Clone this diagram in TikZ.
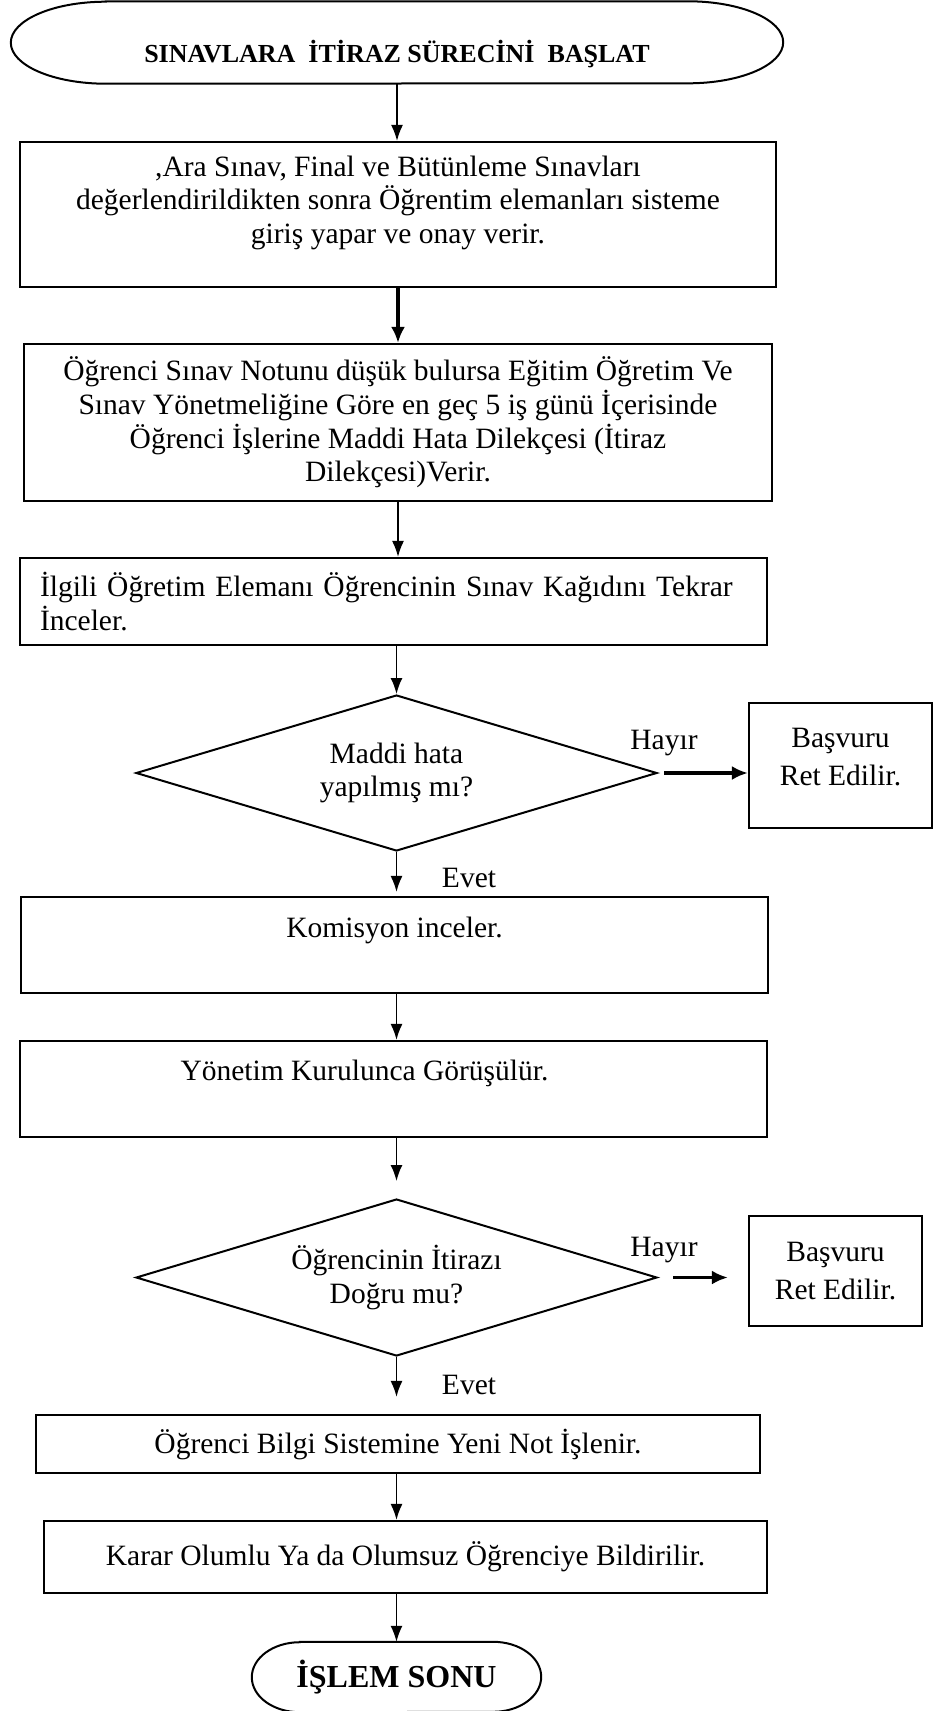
\documentclass[tikz,border=0pt]{standalone}
\usepackage{fontspec}
\setmainfont{Liberation Serif}
\usetikzlibrary{arrows.meta}
\usetikzlibrary{shapes.geometric}

\begin{document}
\begin{tikzpicture}[x=1pt, y=-1pt,
    every node/.style={font=\fontsize{29.5}{33.7}\selectfont, inner sep=0pt},
    stepbox/.style={draw, line width=2.2pt, rectangle},
    retbox/.style={stepbox, align=center, font=\fontsize{29.5}{38}\selectfont},
    decision/.style={draw, line width=2pt, diamond, aspect=3.34, align=center},
    terminal/.style={rectangle, font=\fontsize{26}{30}\selectfont\bfseries},
    conn/.style={-{Latex[length=16pt,width=12pt]}, line width=1.6pt},
    thickconn/.style={-{Latex[length=16pt,width=14pt]}, line width=3.2pt}]
    \useasboundingbox (0,0) rectangle (941,1711);
    \node[terminal, minimum width=772pt, minimum height=82pt, text height=46pt, text depth=7pt] (start) at (397,42.5) {SINAVLARA\ \ İTİRAZ SÜRECİNİ\ \ BAŞLAT};
    \draw[line width=2pt] ([xshift=95pt]start.north west) -- ([xshift=-95pt]start.north east) arc[start angle=90, end angle=-90, x radius=95pt, y radius=41pt] -- ([xshift=95pt]start.south west) arc[start angle=270, end angle=90, x radius=95pt, y radius=41pt] -- cycle;

    \node[stepbox, align=center, minimum width=756pt, minimum height=145pt] (b1) at (398,214.5) {,Ara Sınav, Final ve Bütünleme Sınavları\\değerlendirildikten sonra Öğrentim elemanları sisteme\\giriş yapar ve onay verir.\\[-4pt]\mbox{}};
    \node[stepbox, align=center, minimum width=748pt, minimum height=157pt] (b2) at (398,422.5) {Öğrenci Sınav Notunu düşük bulursa Eğitim Öğretim Ve\\Sınav Yönetmeliğine Göre en geç 5 iş günü İçerisinde\\Öğrenci İşlerine Maddi Hata Dilekçesi (İtiraz\\Dilekçesi)Verir.};
    \node[stepbox, align=left, text width=707pt, minimum width=747pt, minimum height=87pt] (b3) at (393.5,601.5) {İlgili Öğretim Elemanı Öğrencinin Sınav Kağıdını Tekrar\\İnceler.};
    \node[decision, minimum width=521pt, minimum height=156pt] (dm1) at (396.5,773) {Maddi hata\\yapılmış mı?};
    \node[retbox, minimum width=183pt, minimum height=125pt] (ret1) at (840.5,765.5) {Başvuru\\Ret Edilir.\\[-21pt]\mbox{}};
    \node (hayir1) at (664,743) {Hayır};
    \node (evet1) at (469,878) {Evet};
    \node[stepbox, minimum width=747pt, minimum height=96pt, text height=22pt, text depth=38pt] (b4) at (394.5,945) {Komisyon inceler.};
    \node[stepbox, minimum width=747pt, minimum height=96pt, text height=22pt, text depth=40pt] (b5) at (393.5,1089) {Yönetim Kurulunca Görüşülür.\hspace*{58pt}};
    \node[decision, minimum width=521pt, minimum height=157pt] (dm2) at (396.5,1277.5) {Öğrencinin İtirazı\\Doğru mu?};
    \node[retbox, minimum width=173pt, minimum height=110pt] (ret2) at (835.5,1271) {Başvuru\\Ret Edilir.};
    \node (hayir2) at (664,1250) {Hayır};
    \node (evet2) at (469,1385) {Evet};
    \node[stepbox, minimum width=724pt, minimum height=58pt] (b6) at (398,1444) {Öğrenci Bilgi Sistemine Yeni Not İşlenir.};
    \node[stepbox, minimum width=723pt, minimum height=72pt] (b7) at (405.5,1557) {Karar Olumlu Ya da Olumsuz Öğrenciye Bildirilir.};
    \node[terminal, font=\fontsize{32}{36}\selectfont\bfseries, minimum width=289pt, minimum height=70pt] (stop) at (396.5,1677) {İŞLEM SONU};
    \draw[line width=2pt] ([xshift=48pt]stop.north west) -- ([xshift=-48pt]stop.north east) arc[start angle=90, end angle=-90, x radius=48pt, y radius=35pt] -- ([xshift=48pt]stop.south west) arc[start angle=270, end angle=90, x radius=48pt, y radius=35pt] -- cycle;

    \draw[conn] (start.south) -- (start.south |- b1.north);
    \draw[thickconn] (b1.south) -- (b1.south |- b2.north);
    \draw[conn] (b2.south) -- (b2.south |- b3.north);
    \draw[conn] (dm1.north |- b3.south) -- (dm1.north);
    \draw[thickconn] ([xshift=6pt]dm1.east) -- (ret1.west |- dm1.east);
    \draw[conn, shorten >=4pt] (dm1.south) -- (dm1.south |- b4.north);
    \draw[conn] (b4.south -| dm1.south) -- (b5.north -| dm1.south);
    \draw[conn, shorten >=17pt] (b5.south -| dm2.north) -- (dm2.north);
    \draw[thickconn, shorten <=15pt, shorten >=20pt] (dm2.east) -- (ret2.west |- dm2.east);
    \draw[conn, shorten >=17pt] (dm2.south) -- (dm2.south |- b6.north);
    \draw[conn] (b6.south -| dm2.south) -- (b7.north -| dm2.south);
    \draw[conn] (b7.south -| stop.north) -- (stop.north);
\end{tikzpicture}
\end{document}
